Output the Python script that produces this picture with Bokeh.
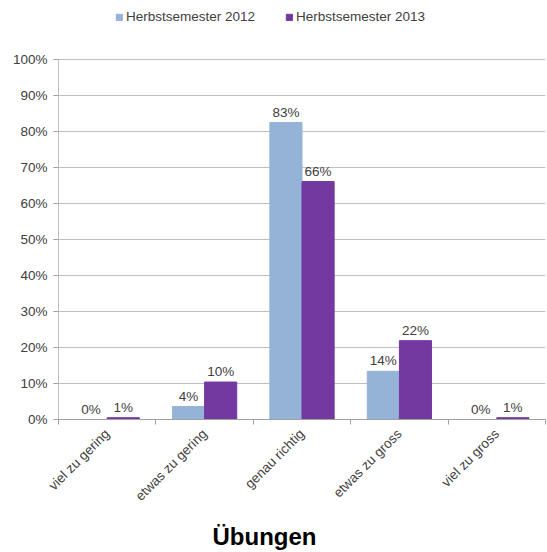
import math
from bokeh.plotting import figure
from bokeh.models import (ColumnDataSource, Range1d, FixedTicker, Legend, LegendItem,
                          Title, LabelSet)
from bokeh.core.properties import value
from bokeh.transform import dodge
from bokeh.embed import file_html
from bokeh.resources import INLINE

categories = ["viel zu gering", "etwas zu gering", "genau richtig", "etwas zu gross", "viel zu gross"]
series_names = ["Herbstsemester 2012", "Herbstsemester 2013"]
values_2012 = [0.0, 3.6, 82.5, 13.4, 0.0]
values_2013 = [0.5, 10.4, 66.1, 21.9, 0.5]
labels_2012 = ["0%", "4%", "83%", "14%", "0%"]
labels_2013 = ["1%", "10%", "66%", "22%", "1%"]
y_ticks = [0, 10, 20, 30, 40, 50, 60, 70, 80, 90, 100]

FONT = "Liberation Sans"
BLUE = "#95B3D7"
PURPLE = "#7339A0"
TXT = "#404040"
FS = "13.5px"

centers = [i + 0.5 for i in range(len(categories))]
src = ColumnDataSource(dict(x=centers, v12=values_2012, v13=values_2013,
                            l12=labels_2012, l13=labels_2013))

# frame extends above the 100% line to hold the legend
p = figure(frame_width=487, frame_height=414, output_backend="svg", toolbar_location=None,
           x_range=Range1d(0, len(categories)), y_range=Range1d(0, 115),
           min_border_left=58, min_border_right=2, min_border_top=5, min_border_bottom=133)
p.outline_line_color = None
p.background_fill_color = "white"
p.border_fill_color = "white"

bw = 0.33
r1 = p.vbar(x=dodge("x", -bw / 2, range=p.x_range), top="v12", width=bw, source=src,
            fill_color=BLUE, line_color=BLUE)
r2 = p.vbar(x=dodge("x", bw / 2, range=p.x_range), top="v13", width=bw, source=src,
            fill_color=PURPLE, line_color=PURPLE)

for col, lab, off in (("v12", "l12", -bw / 2), ("v13", "l13", bw / 2)):
    ls = LabelSet(x=dodge("x", off, range=p.x_range), y=col, text=lab, source=src,
                  text_align="center", text_baseline="bottom", y_offset=3,
                  text_font=value(FONT), text_font_size=value(FS), text_color=TXT)
    p.add_layout(ls)

# y axis
p.yaxis.ticker = FixedTicker(ticks=y_ticks)
p.yaxis.bounds = (0, 100)
p.yaxis.major_label_overrides = {t: f"{t}%" for t in y_ticks}
p.yaxis.major_label_text_font = FONT
p.yaxis.major_label_text_font_size = FS
p.yaxis.major_label_text_color = TXT
p.yaxis.axis_line_color = "#BFBFBF"
p.yaxis.major_tick_line_color = "#A0A0A0"
p.yaxis.major_tick_out = 5
p.yaxis.major_tick_in = 0
p.yaxis.minor_tick_line_color = None
p.yaxis.major_label_standoff = 6

p.ygrid.ticker = FixedTicker(ticks=y_ticks)
p.ygrid.grid_line_color = "#BFBFBF"
p.xgrid.grid_line_color = None

# x axis: labels at centers, ticks at boundaries
p.xaxis.ticker = FixedTicker(ticks=centers, minor_ticks=list(range(len(categories) + 1)))
p.xaxis.major_label_overrides = {c: n for c, n in zip(centers, categories)}
p.xaxis.major_label_orientation = math.pi / 4
p.xaxis.major_label_text_font = FONT
p.xaxis.major_label_text_font_size = FS
p.xaxis.major_label_text_color = TXT
p.xaxis.major_tick_out = 0
p.xaxis.major_tick_in = 0
p.xaxis.minor_tick_out = 5
p.xaxis.minor_tick_in = 0
p.xaxis.minor_tick_line_color = "#A0A0A0"
p.xaxis.axis_line_color = "#A0A0A0"
p.xaxis.major_label_standoff = 7

legend = Legend(items=[LegendItem(label=series_names[0], renderers=[r1]),
                       LegendItem(label=series_names[1], renderers=[r2])],
                orientation="horizontal", location=(57, 395),
                label_text_font=FONT, label_text_font_size=FS, label_text_color=TXT,
                glyph_width=8, glyph_height=8, label_standoff=3, spacing=30,
                border_line_color=None, background_fill_alpha=0, padding=0, margin=0,
                label_height=12)
p.add_layout(legend, "center")

p.add_layout(Title(text="Übungen", align="left", text_font=FONT, text_font_size="24px",
                   text_font_style="bold", text_color="black", offset=154, standoff=18), "below")

open("out.html", "w").write(file_html(p, INLINE))
